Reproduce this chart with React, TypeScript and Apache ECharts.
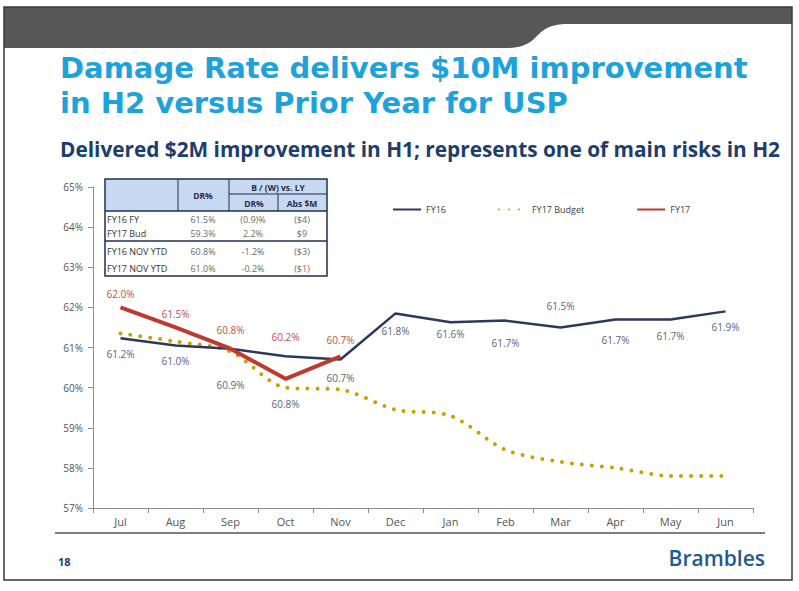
import { useEffect, useRef } from "react";
import * as echarts from "echarts";

const months = ["Jul", "Aug", "Sep", "Oct", "Nov", "Dec", "Jan", "Feb", "Mar", "Apr", "May", "Jun"];
const fy16 = [61.23, 61.05, 60.97, 60.78, 60.7, 61.85, 61.63, 61.67, 61.5, 61.7, 61.7, 61.9];
const fy16Labels = ["61.2%", "61.0%", "60.9%", "60.8%", "60.7%", "61.8%", "61.6%", "61.7%", "61.5%", "61.7%", "61.7%", "61.9%"];
const fy17Budget = [61.35, 61.15, 60.9, 60.0, 59.95, 59.45, 59.3, 58.45, 58.15, 58.0, 57.8, 57.8];
const fy17 = [62.0, 61.5, 60.97, 60.22, 60.78];
const fy17Labels = ["62.0%", "61.5%", "60.8%", "60.2%", "60.7%"];

const tableRows = [
  ["FY16 FY", "61.5%", "(0.9)%", "($4)"],
  ["FY17 Bud", "59.3%", "2.2%", "$9"],
  ["FY16 NOV YTD", "60.8%", "-1.2%", "($3)"],
  ["FY17 NOV YTD", "61.0%", "-0.2%", "($1)"],
];

// label gaps (px) from the point; negative = above
const fy16Gap = [10, 10, 30, 42, 12, 12, 6, 16, -15, 15, 11, 10];
const fy17Gap = [7, 7, 13, 36, 10];

const FONT = "'Open Sans', 'DejaVu Sans', sans-serif";
const TITLE_FONT = "'DejaVu Sans', sans-serif";
const NAVY = "#1c3d6e";
const CLEAR = "rgba(0,0,0,0)";

echarts.graphic.registerShape(
  "band",
  echarts.graphic.extendPath(
    "M4 7 H792 V24 H568 C550 24 544 29 536 37 C528 45 520 48 506 48 H4 Z",
    {}
  )
);

function tableGraphic() {
  const els: any[] = [];
  const L = 105, R = 327, T = 179, B = 276;
  const c1 = 178, c2 = 229, c3 = 278;
  const hMid = 194, hEnd = 211, grpSep = 241;
  const line = "#1f2f4f";
  els.push({ type: "rect", shape: { x: L, y: T, width: R - L, height: hEnd - T }, style: { fill: "#c6d9f0" } });
  els.push({ type: "rect", shape: { x: L, y: T, width: R - L, height: B - T }, style: { fill: "none", stroke: line, lineWidth: 1.5 } });
  const seg = (x1: number, y1: number, x2: number, y2: number, w = 1) =>
    els.push({ type: "line", shape: { x1, y1, x2, y2 }, style: { stroke: line, lineWidth: w } });
  seg(c1, T, c1, hEnd);
  seg(c2, T, c2, hEnd);
  seg(c3, hMid, c3, hEnd);
  seg(c2, hMid, R, hMid);
  seg(L, hEnd, R, hEnd, 1.5);
  seg(L, grpSep, R, grpSep, 1.5);
  const txt = (s: string, x: number, y: number, opts: any = {}) =>
    els.push({
      type: "text",
      x,
      y,
      style: { text: s, fontFamily: FONT, fontSize: 9, fill: "#404040", align: "center", verticalAlign: "middle", ...opts },
    });
  const hd = { fontWeight: "bold", fill: "#1f2f4f", fontSize: 8.5 };
  txt("DR%", 203, 195, hd);
  txt("B / (W) vs. LY", 278, 187, hd);
  txt("DR%", 254, 203, hd);
  txt("Abs $M", 302, 203, hd);
  const rowY = [219, 233, 251, 268];
  const colX = [203, 253, 302];
  tableRows.forEach((r, i) => {
    txt(r[0], 107, rowY[i], { align: "left", fill: "#333", fontSize: 9 });
    r.slice(1).forEach((v, j) => txt(v, colX[j], rowY[i], { fill: "#6a6a6a" }));
  });
  return els;
}

export default function App() {
  const ref = useRef<HTMLDivElement>(null);

  useEffect(() => {
    if (!ref.current) return;
    const chart = echarts.init(ref.current, undefined, { renderer: "svg" });

    const option: echarts.EChartsOption = {
      animation: false,
      backgroundColor: "#ffffff",
      textStyle: { fontFamily: FONT },
      grid: { left: 93, right: 46, top: 187, bottom: 83 },
      legend: {
        left: 392,
        top: 205,
        padding: 0,
        itemWidth: 28,
        itemHeight: 8,
        itemGap: 52,
        textStyle: { fontSize: 9, color: "#404040", fontFamily: FONT },
        data: ["FY16", "FY17 Budget", "FY17"],
      },
      xAxis: {
        type: "category",
        data: months,
        boundaryGap: true,
        axisLine: { lineStyle: { color: "#8c8c8c", width: 1 } },
        axisTick: { show: true, length: 5, lineStyle: { color: "#8c8c8c" } },
        axisLabel: { color: "#555", fontSize: 11, margin: 8, fontFamily: FONT },
      },
      yAxis: {
        type: "value",
        min: 57,
        max: 65,
        interval: 1,
        axisLine: { show: true, lineStyle: { color: "#8c8c8c", width: 1 } },
        axisTick: { show: true, length: 5, lineStyle: { color: "#8c8c8c" } },
        splitLine: { show: false },
        axisLabel: { formatter: "{value}%", color: "#555", fontSize: 10, margin: 10, fontFamily: FONT },
      },
      series: [
        {
          name: "FY16",
          type: "line",
          symbol: "circle",
          symbolSize: 2,
          showSymbol: true,
          itemStyle: { color: CLEAR },
          lineStyle: { color: "#2b3a5c", width: 2.5 },
          data: fy16.map((v, i) => ({
            value: v,
            label: {
              show: true,
              position: fy16Gap[i] < 0 ? "top" : "bottom",
              distance: Math.abs(fy16Gap[i]),
              formatter: fy16Labels[i],
              color: "#5a6478",
              fontSize: 10,
              fontFamily: FONT,
            },
          })),
          z: 3,
        },
        {
          name: "FY17 Budget",
          type: "line",
          symbol: "circle",
          symbolSize: 2,
          itemStyle: { color: CLEAR },
          smooth: 0.3,
          lineStyle: { color: "#c9a000", width: 4, type: [0, 10], cap: "round" },
          data: fy17Budget,
          z: 2,
        },
        {
          name: "FY17",
          type: "line",
          symbol: "circle",
          symbolSize: 2,
          showSymbol: true,
          itemStyle: { color: CLEAR },
          lineStyle: { color: "#c0392f", width: 4 },
          data: fy17.map((v, i) => ({
            value: v,
            label: {
              show: true,
              position: "top",
              distance: fy17Gap[i],
              formatter: fy17Labels[i],
              color: "#c0504d",
              fontSize: 10,
              fontFamily: FONT,
            },
          })),
          z: 4,
        },
      ],
      graphic: [
        { type: "band", x: 0, y: 0, style: { fill: "#575757" }, z: -1 } as any,
        {
          type: "rect",
          shape: { x: 4, y: 7, width: 788, height: 573 },
          style: { fill: "none", stroke: "#3a3a3a", lineWidth: 1.5 },
        },
        {
          type: "text",
          x: 60,
          y: 67.5,
          style: { text: "Damage Rate delivers $10M improvement", fontFamily: TITLE_FONT, fontWeight: "bold", fontSize: 29, fill: "#1ea2dc", verticalAlign: "middle" },
        },
        {
          type: "text",
          x: 60,
          y: 102.5,
          style: { text: "in H2 versus Prior Year for USP", fontFamily: TITLE_FONT, fontWeight: "bold", fontSize: 29, fill: "#1ea2dc", verticalAlign: "middle" },
        },
        {
          type: "text",
          x: 60,
          y: 148.5,
          style: { text: "Delivered $2M improvement in H1; represents one of main risks in H2", fontFamily: FONT, fontWeight: "bold", fontSize: 20.8, fill: NAVY, verticalAlign: "middle" },
        },
        ...tableGraphic(),
        {
          type: "line",
          shape: { x1: 55, y1: 533, x2: 765, y2: 533 },
          style: { stroke: "#7f7f7f", lineWidth: 2 },
        },
        {
          type: "text",
          x: 58,
          y: 561,
          style: { text: "18", fontFamily: FONT, fontWeight: "bold", fontSize: 11, fill: NAVY, verticalAlign: "middle" },
        },
        {
          type: "text",
          x: 765,
          y: 558,
          style: { text: "Brambles", fontFamily: FONT, fontWeight: 600, fontSize: 21, fill: "#1f5a96", align: "right", verticalAlign: "middle" },
        },
      ],
    };

    chart.setOption(option);
    return () => chart.dispose();
  }, []);

  return (
    <div
      ref={ref}
      style={{ position: "fixed", left: 0, top: 0, width: 799, height: 591, background: "#fff" }}
    />
  );
}
